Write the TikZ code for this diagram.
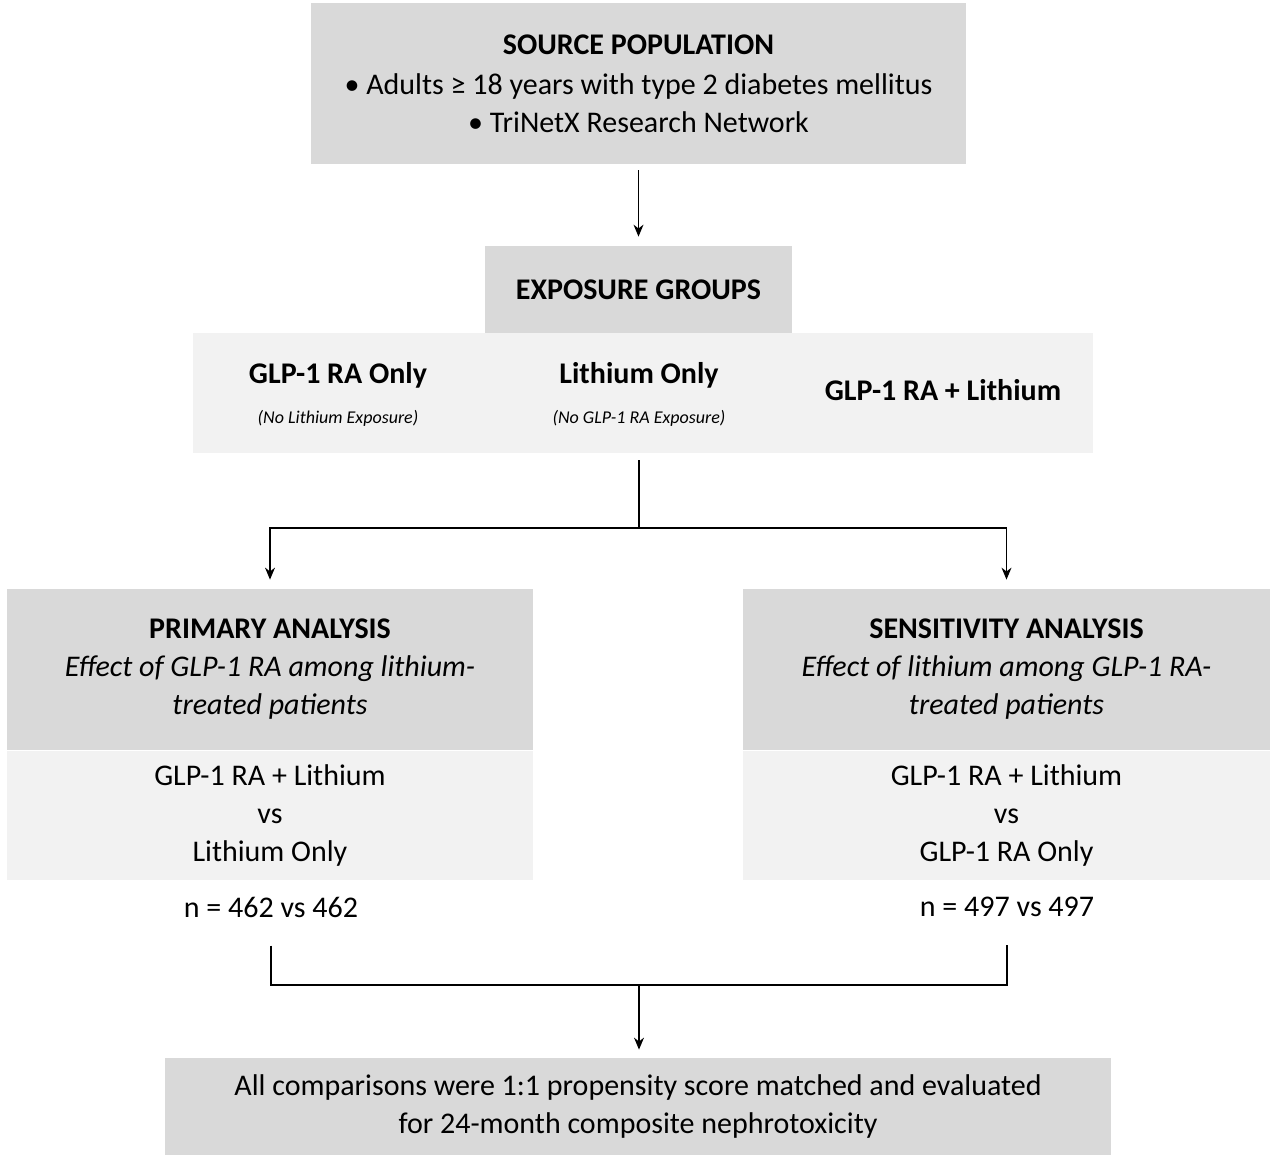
\documentclass[tikz,border=0pt]{standalone}
\usepackage{fontspec}
\setmainfont{Carlito}
\usetikzlibrary{positioning,arrows.meta}
\definecolor{boxdark}{HTML}{D9D9D9}
\definecolor{boxlight}{HTML}{F2F2F2}
\tikzset{
  dark box/.style={fill=boxdark, inner sep=0pt},
  light box/.style={fill=boxlight, inner sep=0pt},
  label text/.style={font=\fontsize{15}{19}\selectfont, align=center, inner sep=0pt},
  link/.style={draw, line width=0.6pt},
  arrow/.style={link, -{Stealth[length=6pt,width=5pt]}}
}
\begin{document}
\begin{tikzpicture}[x=0.5pt, y=-0.5pt]
\useasboundingbox (0,0) rectangle (1280,1162);
% boxes
\node [dark box, minimum width=327.5pt, minimum height=80.5pt] (source) at (638.5,83.5) {};
\node [dark box, minimum width=153.5pt, minimum height=43.5pt] (exposure) at (638.5,289.5) {};
\node [light box, minimum width=450pt, minimum height=60pt] (groups) at (643,393) {};
\node [dark box, minimum width=263pt, minimum height=80.5pt] (primary) at (270,669.5) {};
\node [light box, minimum width=263pt, minimum height=64.5pt, below=0pt of primary] (primaryCmp) {};
\node [dark box, minimum width=263.5pt, minimum height=80.5pt] (sensitivity) at (1006.5,669.5) {};
\node [light box, minimum width=263.5pt, minimum height=64.5pt, below=0pt of sensitivity] (sensitivityCmp) {};
\node [dark box, minimum width=473pt, minimum height=48.5pt] (result) at (638,1106.5) {};

% texts
\node [label text] (sourceText) at (source.center) {\textbf{SOURCE POPULATION}\\[1pt] • Adults ≥ 18 years with type 2 diabetes mellitus\\ • TriNetX Research Network};
\node [label text] at (exposure.center) {\textbf{EXPOSURE GROUPS}};
\node [label text] at (338,394) {\textbf{GLP-1 RA Only}\\[1pt] \textit{\small(No Lithium Exposure)}};
\node [label text] at (639,394) {\textbf{Lithium Only}\\[1pt] \textit{\small(No GLP-1 RA Exposure)}};
\node [label text] at (943,390) {\textbf{GLP-1 RA + Lithium}};
\node [label text] at (primary.center) {\textbf{PRIMARY ANALYSIS}\\ \textit{Effect of GLP-1 RA among lithium-}\\ \textit{treated patients}};
\node [label text] at (primaryCmp.center) {GLP-1 RA + Lithium\\ vs\\ Lithium Only};
\node [label text] (primaryN) at (271,907) {n = 462 vs 462};
\node [label text] at (sensitivity.center) {\textbf{SENSITIVITY ANALYSIS}\\ \textit{Effect of lithium among GLP-1 RA-}\\ \textit{treated patients}};
\node [label text] at (sensitivityCmp.center) {GLP-1 RA + Lithium\\ vs\\ GLP-1 RA Only};
\node [label text] (sensitivityN) at (1007,907) {n = 497 vs 497};
\node [label text] at (result.center) {All comparisons were 1:1 propensity score matched and evaluated\\ for 24-month composite nephrotoxicity};

% connectors
\coordinate (split) at (639,528);
\coordinate (join) at (639,985);
\draw [arrow, shorten <=3pt, shorten >=4.5pt] (source.south -| exposure.north) -- (exposure.north);
\draw [link, shorten <=3.5pt] (groups.south -| split) -- (split);
\draw [arrow, shorten >=4.5pt] (split) -| (primary.north);
\draw [arrow, shorten >=4.5pt] (split) -| (sensitivity.north);
\draw [link, shorten <=14pt] (primaryN.south) |- (join);
\draw [link, shorten <=14pt] (sensitivityN.south) |- (join);
\draw [arrow, shorten >=4pt] (join) -- (result.north -| join);
\end{tikzpicture}
\end{document}
